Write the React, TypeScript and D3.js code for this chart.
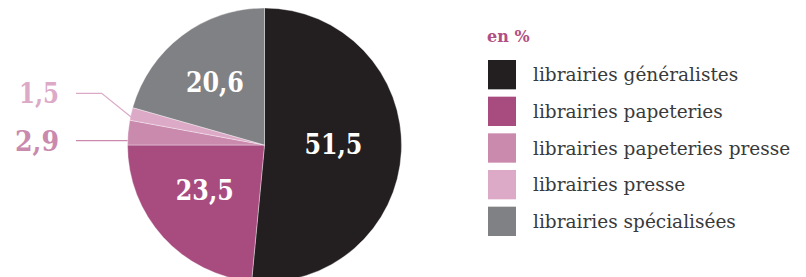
import React from "react";
import * as d3 from "d3";

const categories = [
  "librairies généralistes",
  "librairies papeteries",
  "librairies papeteries presse",
  "librairies presse",
  "librairies spécialisées",
];
const values = [51.5, 23.5, 2.9, 1.5, 20.6];
const valueLabels = ["51,5", "23,5", "2,9", "1,5", "20,6"];
const colors = ["#231f20", "#a84c80", "#c98aad", "#dcaac7", "#808184"];
const legendTitle = "en %";

const W = 806;
const H = 277;
const cx = 264.5;
const cy = 145;
const R = 137;

export default function App() {
  const pie = d3.pie<number>().sort(null).value((d) => d)(values);
  const arc = d3.arc<d3.PieArcDatum<number>>().innerRadius(0).outerRadius(R);
  const labelArc = d3
    .arc<d3.PieArcDatum<number>>()
    .innerRadius(74)
    .outerRadius(74);

  const legendY = d3
    .scaleBand<number>()
    .domain(d3.range(categories.length))
    .range([60, 236])
    .paddingInner(0.2);

  const inside = (i: number) => values[i] > 10;
  const serif = "'DejaVu Serif', serif";

  // outer labels (small slices)
  const outerLabelY: Record<number, number> = { 2: 140.7, 3: 93.3 };

  return (
    <svg
      width={W}
      height={H}
      style={{ position: "absolute", left: 0, top: 0, background: "#fff" }}
    >
      <g transform={`translate(${cx},${cy})`}>
        {pie.map((p, i) => (
          <path
            key={i}
            d={arc(p) as string}
            fill={colors[i]}
            stroke="#ffffff"
            strokeWidth={0.6}
            strokeOpacity={0.6}
          />
        ))}
        {pie.map((p, i) => {
          if (!inside(i)) return null;
          const [x, y] = labelArc.centroid(p);
          return (
            <text
              key={i}
              x={x}
              y={y}
              dx={-5}
              dy="0.2em"
              textAnchor="middle"
              fill="#ffffff"
              fontFamily={serif}
              fontWeight="bold"
              fontSize={28}
              textLength={58}
              lengthAdjust="spacingAndGlyphs"
            >
              {valueLabels[i]}
            </text>
          );
        })}
      </g>
      {pie.map((p, i) => {
        if (inside(i)) return null;
        const ly = outerLabelY[i];
        let points: [number, number][];
        if (i === 2) {
          const ex = cx - Math.sqrt(R * R - (ly - cy) * (ly - cy));
          points = [
            [76, ly],
            [ex, ly],
          ];
        } else {
          const a = p.startAngle + (p.endAngle - p.startAngle) * 0.25;
          const ex = cx + (R - 1) * Math.sin(a);
          const ey = cy - (R - 1) * Math.cos(a);
          points = [
            [76, ly],
            [101.7, ly],
            [ex, ey],
          ];
        }
        return (
          <g key={i}>
            <path
              d={d3.line()(points) as string}
              fill="none"
              stroke={colors[i]}
              strokeWidth={1.2}
            />
            <text
              x={59}
              y={ly}
              dy="0.36em"
              textAnchor="end"
              fill={colors[i]}
              fontFamily={serif}
              fontWeight="bold"
              fontSize={28}
              textLength={i === 2 ? 44 : 40}
              lengthAdjust="spacingAndGlyphs"
            >
              {valueLabels[i]}
            </text>
          </g>
        );
      })}
      <text
        x={487}
        y={42}
        fill="#b04f84"
        fontFamily={serif}
        fontWeight="bold"
        fontSize={16}
      >
        {legendTitle}
      </text>
      {categories.map((c, i) => {
        const y = legendY(i) as number;
        const h = legendY.bandwidth();
        return (
          <g key={c}>
            <rect x={488} y={y} width={28} height={h} fill={colors[i]} />
            <text
              x={533}
              y={y + h / 2}
              dy="0.36em"
              fill="#3a3a3a"
              fontFamily={serif}
              fontSize={18.5}
            >
              {c}
            </text>
          </g>
        );
      })}
    </svg>
  );
}
